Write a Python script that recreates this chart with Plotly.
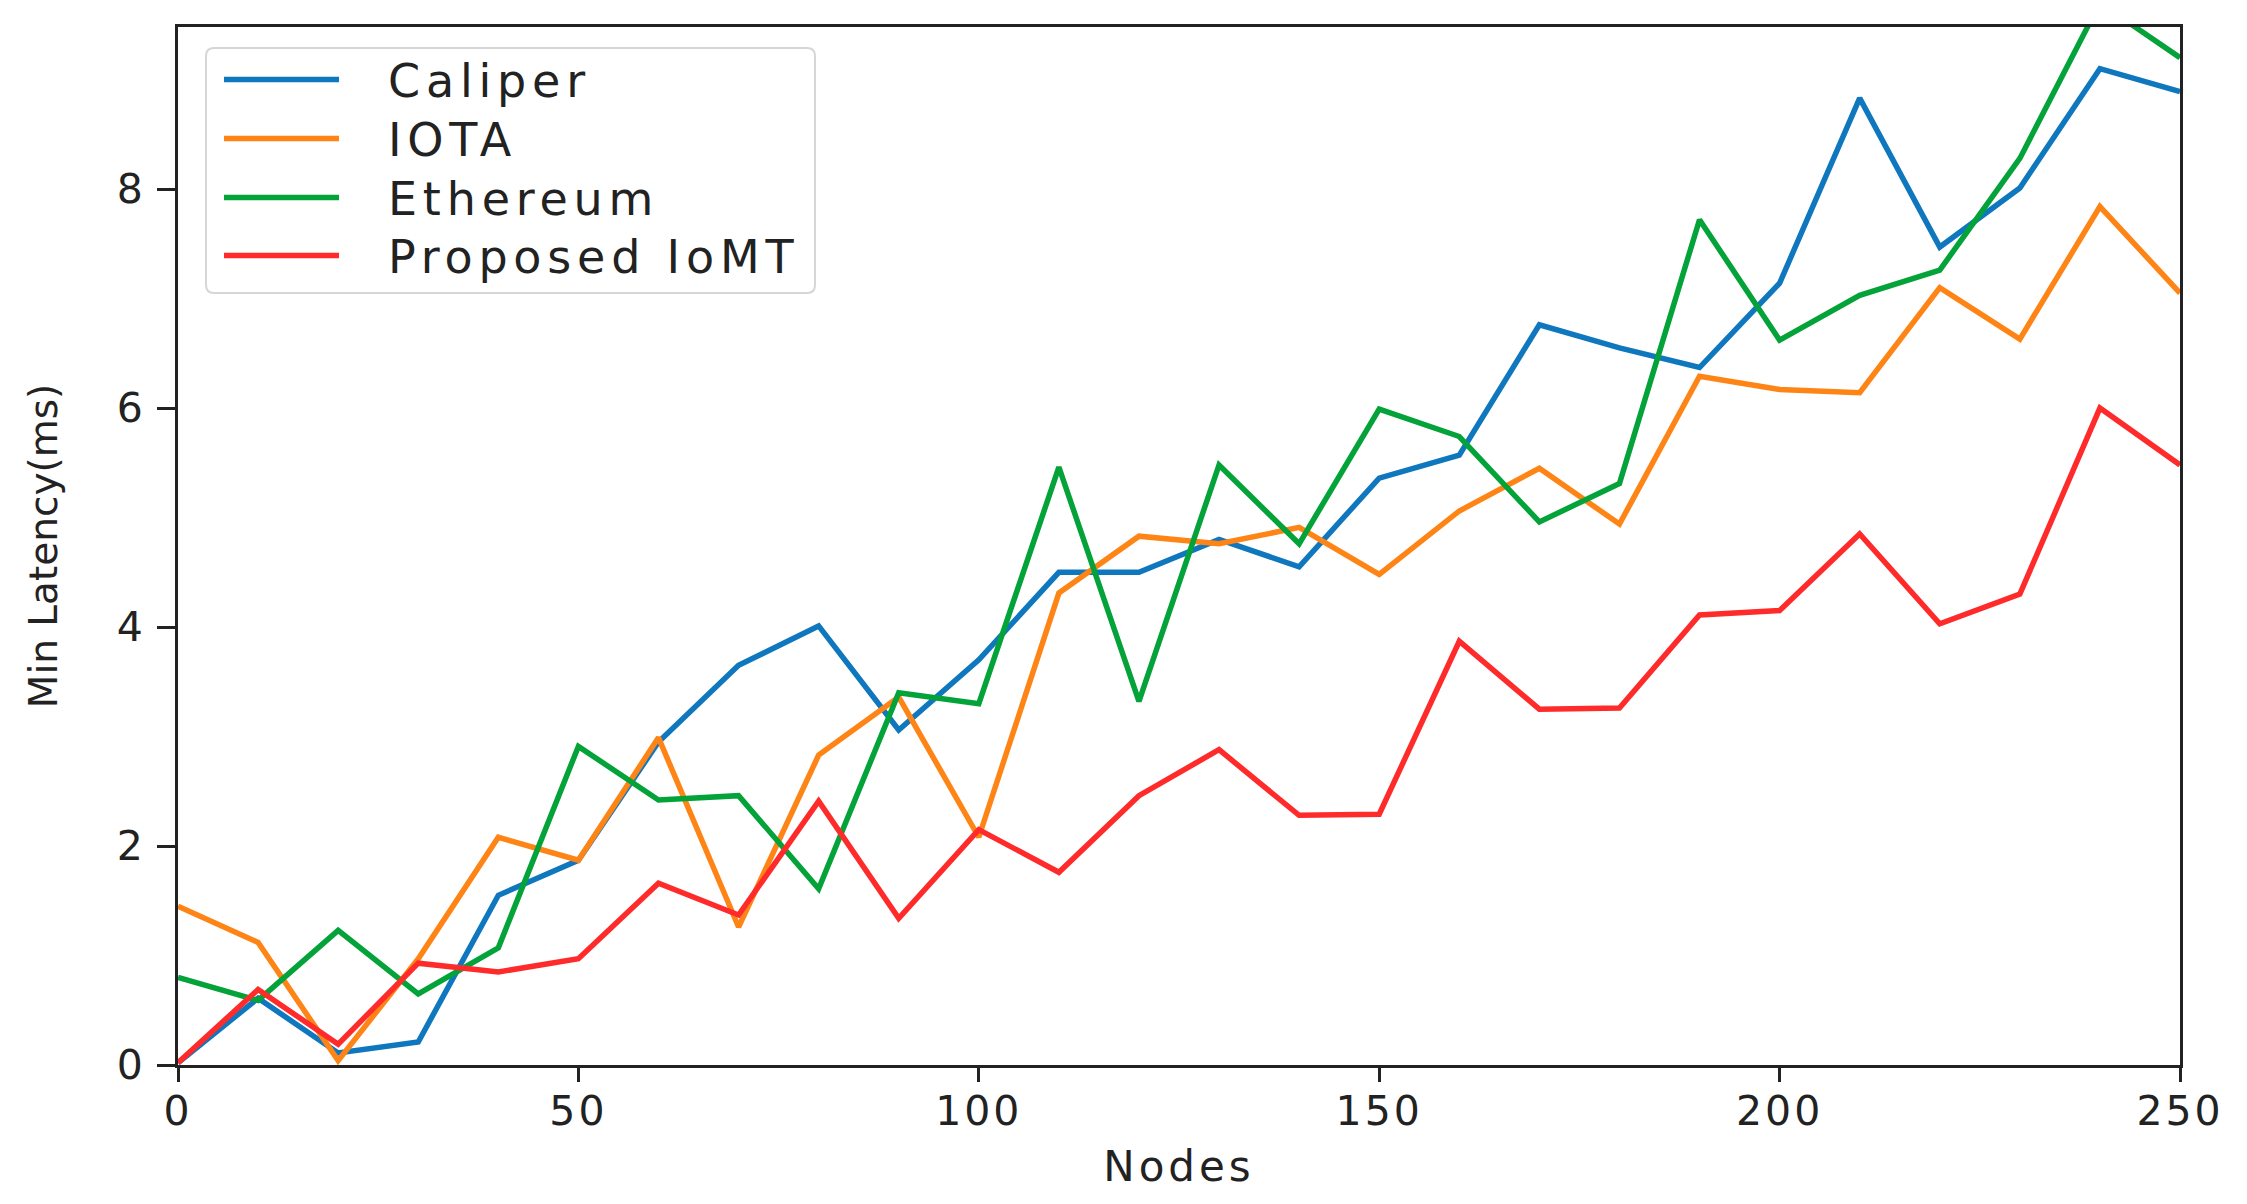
import plotly.graph_objects as go

nodes = list(range(0, 251, 10))

caliper = [0.02, 0.61, 0.11, 0.21, 1.55, 1.87, 2.95, 3.65, 4.01, 3.06, 3.70, 4.50, 4.50,
           4.80, 4.55, 5.36, 5.57, 6.76, 6.55, 6.37, 7.14, 8.83, 7.47, 8.01, 9.10, 8.89]
iota = [1.45, 1.12, 0.04, 0.97, 2.08, 1.87, 2.99, 1.26, 2.83, 3.36, 2.08, 4.31, 4.83,
        4.76, 4.91, 4.48, 5.06, 5.45, 4.94, 6.29, 6.17, 6.14, 7.10, 6.63, 7.84, 7.05]
ethereum = [0.80, 0.59, 1.23, 0.65, 1.07, 2.91, 2.42, 2.46, 1.61, 3.40, 3.30, 5.46, 3.32,
            5.48, 4.76, 5.99, 5.74, 4.96, 5.31, 7.72, 6.62, 7.03, 7.26, 8.28, 9.70, 9.20]
proposed = [0.02, 0.69, 0.19, 0.93, 0.85, 0.97, 1.66, 1.37, 2.41, 1.34, 2.15, 1.76, 2.46,
            2.88, 2.28, 2.29, 3.87, 3.25, 3.26, 4.11, 4.15, 4.85, 4.03, 4.30, 6.00, 5.48]

series_names = ["Caliper", "IOTA", "Ethereum", "Proposed IoMT"]
series_values = [caliper, iota, ethereum, proposed]
colors = ["#0f77be", "#ff8416", "#03a33a", "#ff2b2b"]

x_ticks = [0, 50, 100, 150, 200, 250]
y_ticks = [0, 2, 4, 6, 8]

W, H = 2247, 1204
ML, MR, MT, MB = 178, 67, 27, 139
PW, PH = W - ML - MR, H - MT - MB

def wide(s, sp):
    return f'<span style="letter-spacing:{sp}px">{s}</span>'

fig = go.Figure()
for name, vals, col in zip(series_names, series_values, colors):
    fig.add_trace(go.Scatter(x=nodes, y=vals, mode="lines", name=name,
                             line=dict(color=col, width=5.5), showlegend=False))

font = "DejaVu Sans, Verdana, sans-serif"

fig.update_layout(
    width=W, height=H,
    margin=dict(l=ML, r=MR, t=MT, b=MB),
    paper_bgcolor="white", plot_bgcolor="white",
    font=dict(family=font, color="#222222", size=40),
    xaxis=dict(range=[0, 250], tickvals=x_ticks, ticktext=[wide(str(t), 3) for t in x_ticks],
               ticks="outside", ticklen=14, tickwidth=3,
               tickcolor="#222", showline=True, linecolor="#222", linewidth=3, mirror=True,
               showgrid=False, zeroline=False, tickfont=dict(size=41), ticklabelstandoff=-6,
               title=dict(text=wide("Nodes", 4), font=dict(size=42), standoff=18)),
    yaxis=dict(range=[0, 9.48], tickvals=y_ticks, ticktext=[str(t) for t in y_ticks],
               ticks="outside", ticklen=18, tickwidth=3,
               tickcolor="#222", showline=True, linecolor="#222", linewidth=3, mirror=True,
               showgrid=False, zeroline=False, tickfont=dict(size=41), ticklabelstandoff=6,
               title=dict(text="Min Latency(ms)", font=dict(size=39), standoff=48)),
)

def px(X):
    return (X - ML) / PW

def py(Y):
    return (H - MB - Y) / PH

bx0, bx1, by0, by1 = px(206), px(815), py(48), py(293)
rx, ry = 8 / PW, 8 / PH
path = (f"M{bx0+rx},{by0} L{bx1-rx},{by0} Q{bx1},{by0} {bx1},{by0-ry} "
        f"L{bx1},{by1+ry} Q{bx1},{by1} {bx1-rx},{by1} L{bx0+rx},{by1} "
        f"Q{bx0},{by1} {bx0},{by1+ry} L{bx0},{by0-ry} Q{bx0},{by0} {bx0+rx},{by0} Z")
fig.add_shape(type="path", path=path, xref="paper", yref="paper",
              line=dict(color="#d6d6d6", width=2), fillcolor="rgba(255,255,255,0.85)",
              layer="above")

row_y = [79.6, 138.5, 197.5, 255.6]
for name, col, ry_ in zip(series_names, colors, row_y):
    fig.add_shape(type="line", xref="paper", yref="paper",
                  x0=px(224), x1=px(339), y0=py(ry_), y1=py(ry_),
                  line=dict(color=col, width=5.5), layer="above")
    fig.add_annotation(x=px(386), y=py(ry_ + 1), xref="paper", yref="paper",
                       text=wide(name, 5.8), showarrow=False, xanchor="left", yanchor="middle",
                       font=dict(size=46, family=font, color="#222222"))

fig.write_html("out.html", config={"displayModeBar": False, "staticPlot": True},
               post_script="document.body.style.margin='0';document.body.style.overflow='hidden';")
